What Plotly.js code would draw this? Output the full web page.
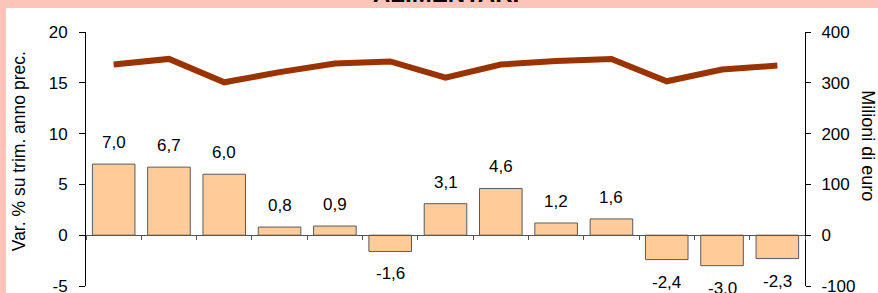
<!DOCTYPE html>
<html>
<head>
<meta charset="utf-8">
<script src="https://cdn.plot.ly/plotly-3.0.1.min.js"></script>
<style>html,body{margin:0;padding:0;background:#fff;}#chart{width:878px;height:293px;}</style>
</head>
<body>
<div id="chart"></div>
<script>
// Data
var categories = ["T1 a", "T2 a", "T3 a", "T4 a", "T1 b", "T2 b", "T3 b", "T4 b", "T1 c", "T2 c", "T3 c", "T4 c", "T1 d"];
var varPct = [7.0, 6.7, 6.0, 0.8, 0.9, -1.6, 3.1, 4.6, 1.2, 1.6, -2.4, -3.0, -2.3];
var milioniEuro = [336, 347, 301, 321, 338, 342, 310, 336, 343, 347, 303, 326, 334];
var leftTicks = [-5, 0, 5, 10, 15, 20];
var rightTicks = [-100, 0, 100, 200, 300, 400];
var titleText = "ALIMENTARI";
var leftTitle = "Var. % su trim. anno prec.";
var rightTitle = "Milioni di euro";

var FONT = "Arial, 'Liberation Sans', sans-serif";

var barTrace = {
  type: "bar",
  x: categories,
  y: varPct,
  marker: {color: "#FFCC99", line: {color: "#5a5a5a", width: 1}},
  hoverinfo: "none"
};
var lineTrace = {
  type: "scatter",
  mode: "lines",
  x: categories,
  y: milioniEuro,
  yaxis: "y2",
  line: {color: "#993300", width: 6},
  hoverinfo: "none"
};

var annotations = varPct.map(function (v, i) {
  return {
    x: categories[i], y: v, xref: "x", yref: "y",
    text: v.toFixed(1).replace(".", ","),
    showarrow: false,
    yanchor: v >= 0 ? "bottom" : "top",
    yshift: v >= 0 ? 10 : -11,
    font: {family: FONT, size: 17, color: "#000"}
  };
});
annotations.push({
  text: "<b>" + titleText + "</b>", xref: "paper", yref: "paper",
  x: 0.501, y: 1.092, xanchor: "center", yanchor: "bottom", showarrow: false,
  font: {family: FONT, size: 24, color: "#000"}
});
annotations.push({
  text: leftTitle, xref: "paper", yref: "paper", textangle: -90,
  x: -0.092, y: 0.53, xanchor: "center", yanchor: "middle", showarrow: false,
  font: {family: FONT, size: 17.5, color: "#000"}
});
annotations.push({
  text: rightTitle, xref: "paper", yref: "paper", textangle: 90,
  x: 1.0876, y: 0.55, xanchor: "center", yanchor: "middle", showarrow: false,
  font: {family: FONT, size: 18, color: "#000"}
});

var layout = {
  width: 878, height: 293,
  margin: {l: 86, r: 73, t: 32, b: 7, pad: 0},
  paper_bgcolor: "#FDC4BA",
  plot_bgcolor: "#ffffff",
  showlegend: false,
  bargap: 0.23,
  font: {family: FONT, size: 17, color: "#000"},
  xaxis: {
    type: "category", range: [-0.5, 12.5],
    anchor: "free", position: 0.2,
    showline: true, linecolor: "#555", linewidth: 1,
    ticks: "outside", tickson: "boundaries", ticklen: 4, tickcolor: "#555",
    showticklabels: false, showgrid: false, zeroline: false, fixedrange: true
  },
  yaxis: {
    range: [-5, 20], tickvals: leftTicks, ticktext: leftTicks.map(String),
    showline: true, linecolor: "#000", linewidth: 1,
    ticks: "outside", ticklen: 6, tickcolor: "#000",
    ticklabelstandoff: 8, ticklabeloverflow: "allow",
    showgrid: false, zeroline: false,
    tickfont: {family: FONT, size: 17, color: "#000"}
  },
  yaxis2: {
    overlaying: "y", side: "right",
    range: [-100, 400], tickvals: rightTicks, ticktext: rightTicks.map(String),
    showline: true, linecolor: "#000", linewidth: 1,
    ticks: "outside", ticklen: 5, tickcolor: "#000",
    ticklabelstandoff: 7, ticklabeloverflow: "allow",
    showgrid: false, zeroline: false,
    tickfont: {family: FONT, size: 17, color: "#000"}
  },
  shapes: [{
    type: "rect", xref: "paper", yref: "paper", layer: "below",
    x0: -0.1113, x1: 1.2, y0: -0.1, y1: 1.0945,
    fillcolor: "#ffffff", line: {width: 0}
  }],
  annotations: annotations
};

Plotly.newPlot("chart", [barTrace, lineTrace], layout, {displayModeBar: false, staticPlot: true});
</script>
</body>
</html>
